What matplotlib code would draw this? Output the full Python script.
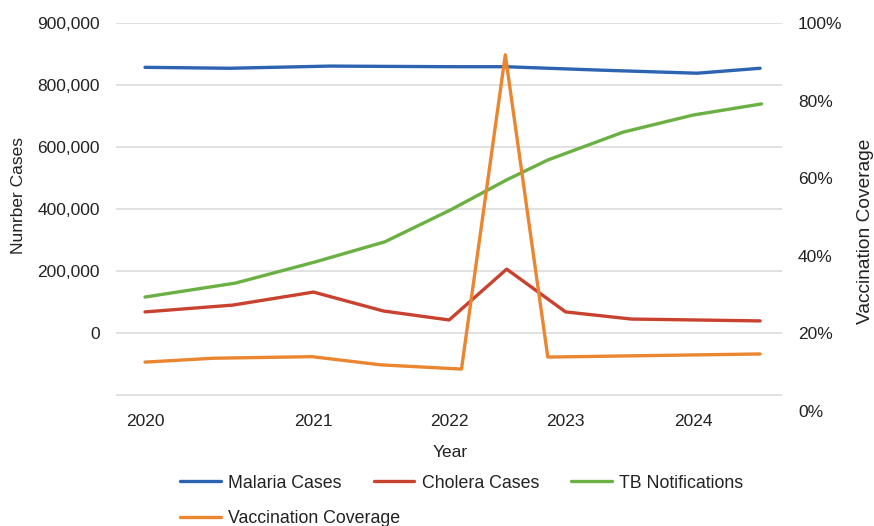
import matplotlib
matplotlib.use("Agg")
import matplotlib.pyplot as plt
from matplotlib.ticker import FixedLocator, FixedFormatter

plt.rcParams["font.family"] = ["Liberation Sans", "DejaVu Sans"]

# Malaria cases
malaria_x = [2020.0, 2020.62, 2021.35, 2022.23, 2022.63, 2023.32, 2024.03, 2024.49]
malaria_y = [857000, 854000, 861000, 859000, 859000, 848000, 838000, 854000]

# Cholera cases
cholera_x = [2020.0, 2020.64, 2021.23, 2021.74, 2022.22, 2022.64, 2023.07, 2023.55, 2024.49]
cholera_y = [68000, 90000, 132000, 71000, 42000, 206000, 68000, 45000, 39000]

# TB notifications
tb_x = [2020.0, 2020.66, 2021.24, 2021.75, 2022.23, 2022.64, 2022.94, 2023.49, 2024.0, 2024.50]
tb_y = [116000, 161000, 229000, 294000, 397000, 494000, 558000, 648000, 703000, 739000]

# Vaccination coverage (%)
vacc_x = [2020.0, 2020.5, 2021.22, 2021.72, 2022.31, 2022.63, 2022.94, 2024.49]
vacc_y = [12.6, 13.6, 14.0, 11.9, 10.8, 91.8, 13.9, 14.7]

year_ticks = [2020.0, 2021.23, 2022.22, 2023.07, 2024.0]
year_labels = ["2020", "2021", "2022", "2023", "2024"]

case_ticks = [-200000, 0, 200000, 400000, 600000, 800000, 1000000]
case_labels = ["", "0", "200,000", "400,000", "600,000", "800,000", "900,000"]

pct_ticks = [0, 20, 40, 60, 80, 100]
pct_labels = ["0%", "20%", "40%", "60%", "80%", "100%"]

BLUE = "#2c64b2"
RED = "#c9412f"
GREEN = "#6bb042"
ORANGE = "#ea8530"
TXT = "#222222"
FS = 12.5

fig = plt.figure(figsize=(8.74, 5.26), dpi=100)
fig.patch.set_facecolor("white")
ax = fig.add_axes([116 / 874, 1 - 411 / 526, 666 / 874, 388 / 526])
ax2 = ax.twinx()

lw = 2.4
l1, = ax.plot(malaria_x, malaria_y, color=BLUE, lw=lw, label="Malaria Cases", solid_capstyle="round")
l2, = ax.plot(cholera_x, cholera_y, color=RED, lw=lw, label="Cholera Cases", solid_capstyle="round")
l3, = ax.plot(tb_x, tb_y, color=GREEN, lw=lw, label="TB Notifications", solid_capstyle="round")
l4, = ax2.plot(vacc_x, vacc_y, color=ORANGE, lw=lw, label="Vaccination Coverage", solid_capstyle="round")

ax.set_xlim(2020 - 29 / 137, 2020 + (782 - 145) / 137)
ax.set_ylim(-200000 - 16 * 200000 / 62, 1000000)
ax2.set_ylim(0, 100)

ax.yaxis.set_major_locator(FixedLocator(case_ticks))
ax.yaxis.set_major_formatter(FixedFormatter(case_labels))
ax2.yaxis.set_major_locator(FixedLocator(pct_ticks))
ax2.yaxis.set_major_formatter(FixedFormatter(pct_labels))
ax.xaxis.set_major_locator(FixedLocator(year_ticks))
ax.xaxis.set_major_formatter(FixedFormatter(year_labels))

ax.grid(axis="y", color="#dedede", lw=1.3)
ax.set_axisbelow(True)
for a in (ax, ax2):
    for s in a.spines.values():
        s.set_visible(False)
    a.tick_params(length=0, labelsize=FS, labelcolor=TXT)
ax.tick_params(axis="y", pad=11.5)
ax2.tick_params(axis="y", pad=11.5)
ax.tick_params(axis="x", pad=2)

ax.set_xlabel("Year", fontsize=FS, color=TXT)
ax.xaxis.set_label_coords(334 / 666, -(445 - 411) / 388)
ax.set_ylabel("Nunrber Cases", fontsize=FS, color=TXT)
ax.yaxis.set_label_coords((26 - 116) / 666, (411 - 196) / 388)
ax2.set_ylabel("Vaccination Coverage", fontsize=13.8, color=TXT, rotation=90)
ax2.yaxis.set_label_coords((857 - 116) / 666, (411 - 231) / 388)

leg_kw = dict(frameon=False, fontsize=12.8, handlelength=2.3, handletextpad=0.42,
              columnspacing=1.78, borderaxespad=0, borderpad=0, labelcolor=TXT)
fig.legend(handles=[l1, l2, l3], ncol=3, loc="center left",
           bbox_to_anchor=(180 / 874, 1 - 483 / 526), **leg_kw)
fig.legend(handles=[l4], ncol=1, loc="center left",
           bbox_to_anchor=(180 / 874, 1 - 518.5 / 526), **leg_kw)

fig.savefig("out.png", dpi=100, facecolor="white")
